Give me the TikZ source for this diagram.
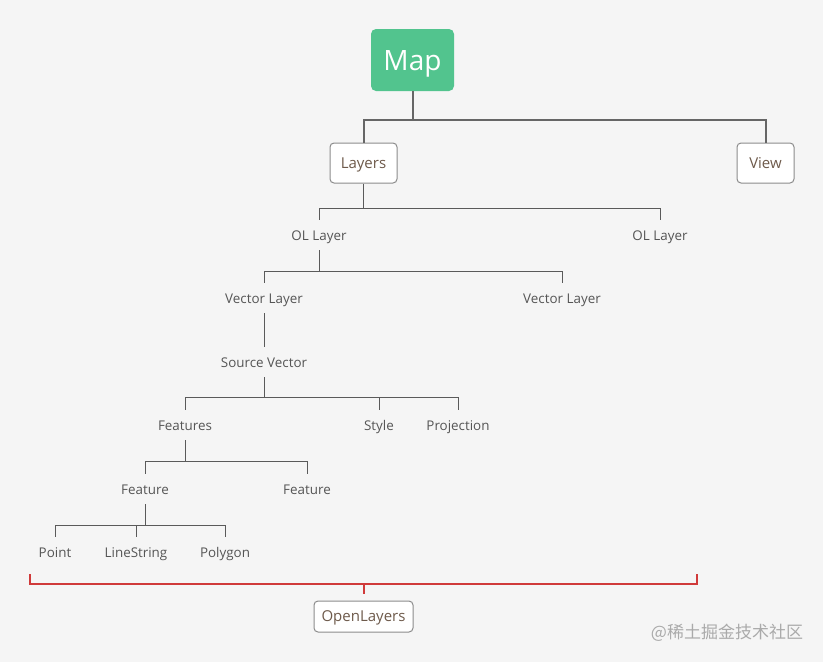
\documentclass[tikz,border=0pt]{standalone}
\usepackage{fontspec}
\setmainfont{Open Sans}
\newfontfamily\cjk{Noto Sans CJK SC}
\definecolor{bgc}{HTML}{F5F5F5}
\definecolor{mapgreen}{HTML}{52C48E}
\definecolor{linec}{HTML}{5A5A5A}
\definecolor{toplinec}{HTML}{666666}
\definecolor{labelc}{HTML}{555555}
\definecolor{boxtext}{HTML}{6E5A4B}
\definecolor{boxborder}{HTML}{8C8C8C}
\definecolor{redc}{HTML}{D03A3A}
\definecolor{wmc}{HTML}{AAAAAA}
\begin{document}
\begin{tikzpicture}[x=1pt,y=-1pt,
  lbl/.style={font=\fontsize{13.4}{15}\selectfont, text=labelc, inner xsep=0pt, inner ysep=10pt, text height=10pt, text depth=0pt},
  box/.style={draw=boxborder, line width=1pt, fill=white, rounded corners=4pt, font=\fontsize{15}{18}\selectfont, text=boxtext, inner sep=0pt, text height=10.8pt, text depth=0pt},
  conn/.style={draw=linec, line width=0.8pt},
  topconn/.style={draw=toplinec, line width=2pt},
  bracket/.style={draw=redc, line width=1.2pt}]
\fill[bgc] (0,0) rectangle (823,662);
\useasboundingbox (0,0) rectangle (823,662);

% boxes
\node[fill=mapgreen, rounded corners=5pt, minimum width=83pt, minimum height=62pt, text=white, font=\fontsize{28}{32}\selectfont, inner sep=0pt, text height=20pt, text depth=0pt] (map) at (412.5,60) {Map};
\node[box, minimum width=67pt, minimum height=40pt] (layers) at (363.5,163) {Layers};
\node[box, minimum width=57pt, minimum height=40pt] (view) at (765.5,163) {View};
\node[box, minimum width=99pt, minimum height=31pt] (ol) at (363.5,616.5) {OpenLayers};

% labels
\node[lbl] (oll1) at (319,235) {OL Layer};
\node[lbl] (oll2) at (660,235) {OL Layer};
\node[lbl] (vl1) at (264,298) {Vector Layer};
\node[lbl] (vl2) at (562,298) {Vector Layer};
\node[lbl] (sv) at (264,362) {Source Vector};
\node[lbl] (feats) at (185,425) {Features};
\node[lbl] (style) at (379,425) {Style};
\node[lbl] (proj) at (458,425) {Projection};
\node[lbl] (feat1) at (145,489) {Feature};
\node[lbl] (feat2) at (307,489) {Feature};
\node[lbl] (point) at (55,552) {Point};
\node[lbl] (ls) at (136,552) {LineString};
\node[lbl] (poly) at (225,552) {Polygon};

% connectors
\draw[topconn] (map.south) -- ++(0,29) coordinate (j0);
\draw[topconn] (j0) -| (layers.north);
\draw[topconn] (j0) -| (view.north);

\draw[conn] (layers.south) -- ++(0,25) coordinate (j1);
\draw[conn] (j1) -| (oll1.north);
\draw[conn] (j1) -| (oll2.north);

\draw[conn] (oll1.south) -- ++(0,21) coordinate (j2);
\draw[conn] (j2) -| (vl1.north);
\draw[conn] (j2) -| (vl2.north);

\draw[conn] (vl1.south) -- (sv.north);

\draw[conn] (sv.south) -- ++(0,20) coordinate (j3);
\draw[conn] (j3) -| (feats.north);
\draw[conn] (j3) -| (style.north);
\draw[conn] (j3) -| (proj.north);

\draw[conn] (feats.south) -- ++(0,21) coordinate (j4);
\draw[conn] (j4) -| (feat1.north);
\draw[conn] (j4) -| (feat2.north);

\draw[conn] (feat1.south) -- ++(0,21) coordinate (j5);
\draw[conn] (j5) -| (point.north);
\draw[conn] (j5) -| (ls.north);
\draw[conn] (j5) -| (poly.north);

% red bracket
\coordinate (bl) at (30,574);
\coordinate (br) at (697,574);
\coordinate (bm) at (364,584);
\draw[bracket] (bl) -- (30,584) -- (697,584) -- (br);
\draw[draw=redc, line width=1.8pt] (bm) -- ++(0,10) coordinate (bt);

% watermark
\node[font=\cjk\fontsize{17}{19}\selectfont, text=wmc, inner sep=0pt] (wm) at (727,633) {@稀土掘金技术社区};
\end{tikzpicture}
\end{document}
